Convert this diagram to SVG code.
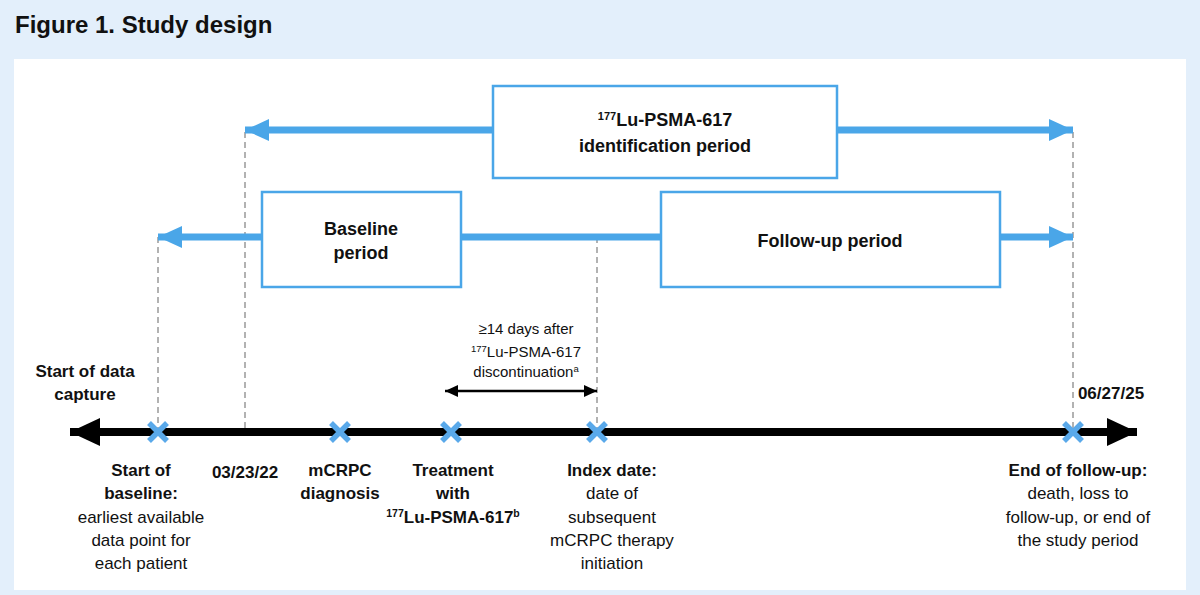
<svg xmlns="http://www.w3.org/2000/svg" width="1200" height="595" viewBox="0 0 1200 595">
<style>
text{font-family:"Liberation Sans",Arial,sans-serif;fill:#111;text-anchor:middle}
.b{font-weight:bold}
.box{fill:#fff;stroke:#4AA6E8;stroke-width:2.5}
.blue{stroke:#4AA6E8;stroke-width:7;fill:none}
.dash{stroke:#999;stroke-width:1.5;stroke-dasharray:6,4;fill:none}
.x{stroke:#5AA9EA;stroke-width:5.5;stroke-linecap:butt}
</style>
<defs>
<marker id="ba" markerWidth="26" markerHeight="22" refX="24" refY="11" orient="auto-start-reverse" markerUnits="userSpaceOnUse"><path d="M0,0L24,11L0,22Z" fill="#4AA6E8"/></marker>
<marker id="ka" markerWidth="32" markerHeight="28" refX="30" refY="14" orient="auto-start-reverse" markerUnits="userSpaceOnUse"><path d="M0,0L30,14L0,28Z" fill="#000"/></marker>
<marker id="sa" markerWidth="14" markerHeight="12" refX="13" refY="6" orient="auto-start-reverse" markerUnits="userSpaceOnUse"><path d="M0,0L13,6L0,12Z" fill="#000"/></marker>
</defs>
<rect width="1200" height="595" fill="#E3EFFB"/>
<text x="15" y="33" class="b" style="text-anchor:start;font-size:24px">Figure 1. Study design</text>
<rect x="14" y="59" width="1172" height="531" fill="#fff"/>
<g id="connectors">
<line class="dash" x1="158" y1="237" x2="158" y2="432"/>
<line class="dash" x1="245" y1="132" x2="245" y2="432"/>
<line class="dash" x1="597" y1="237" x2="597" y2="432"/>
<line class="dash" x1="1073" y1="132" x2="1073" y2="432"/>
<line class="blue" x1="493" y1="130" x2="245" y2="130" marker-end="url(#ba)"/>
<line class="blue" x1="837" y1="130" x2="1073" y2="130" marker-end="url(#ba)"/>
<line class="blue" x1="262" y1="237" x2="158" y2="237" marker-end="url(#ba)"/>
<line class="blue" x1="461" y1="237" x2="661" y2="237"/>
<line class="blue" x1="1000" y1="237" x2="1073" y2="237" marker-end="url(#ba)"/>
<line x1="70" y1="432" x2="1137" y2="432" stroke="#000" stroke-width="8" marker-start="url(#ka)" marker-end="url(#ka)"/>
<line x1="445" y1="391" x2="597" y2="391" stroke="#000" stroke-width="2.5" marker-start="url(#sa)" marker-end="url(#sa)"/>
</g>
<g id="id-period"><rect class="box" x="493" y="86" width="344" height="92"/>
<text x="665" y="126" class="b" font-size="18"><tspan font-size="11" dy="-6">177</tspan><tspan dy="6">Lu-PSMA-617</tspan></text>
<text x="665" y="152" class="b" font-size="18">identification period</text></g>
<g id="baseline-period"><rect class="box" x="262" y="192" width="199" height="95"/>
<text x="361" y="235" class="b" font-size="18">Baseline</text><text x="361" y="259" class="b" font-size="18">period</text></g>
<g id="followup-period"><rect class="box" x="661" y="192" width="339" height="95"/>
<text x="830" y="247" class="b" font-size="18">Follow-up period</text></g>
<g id="markers">
<path class="x" d="M149,423L167,441M167,423L149,441"/>
<path class="x" d="M331,423L349,441M349,423L331,441"/>
<path class="x" d="M442,423L460,441M460,423L442,441"/>
<path class="x" d="M588,423L606,441M606,423L588,441"/>
<path class="x" d="M1064,423L1082,441M1082,423L1064,441"/>
</g>
<g id="labels" font-size="17">
<text x="85" y="377" class="b">Start of data</text><text x="85" y="400" class="b">capture</text>
<text x="1111" y="399" class="b">06/27/25</text>
<text x="526" y="334" font-size="15">≥14 days after</text>
<text x="526" y="357" font-size="15"><tspan font-size="9.5" dy="-5">177</tspan><tspan dy="5">Lu-PSMA-617</tspan></text>
<text x="526" y="377" font-size="15">discontinuation<tspan font-size="9.5" dy="-5">a</tspan></text>
<text x="141" y="476" class="b">Start of</text><text x="141" y="499" class="b">baseline:</text>
<text x="141" y="523">earliest available</text><text x="141" y="546">data point for</text><text x="141" y="569">each patient</text>
<text x="245" y="478" class="b">03/23/22</text>
<text x="340" y="476" class="b">mCRPC</text><text x="340" y="499" class="b">diagnosis</text>
<text x="453" y="476" class="b">Treatment</text><text x="453" y="499" class="b">with</text>
<text x="453" y="523" class="b"><tspan font-size="10.5" dy="-6">177</tspan><tspan dy="6">Lu-PSMA-617</tspan><tspan font-size="10.5" dy="-6">b</tspan></text>
<text x="612" y="476" class="b">Index date:</text>
<text x="612" y="499">date of</text><text x="612" y="523">subsequent</text><text x="612" y="546">mCRPC therapy</text><text x="612" y="569">initiation</text>
<text x="1078" y="476" class="b">End of follow-up:</text>
<text x="1078" y="499">death, loss to</text><text x="1078" y="523">follow-up, or end of</text><text x="1078" y="546">the study period</text>
</g>
</svg>
